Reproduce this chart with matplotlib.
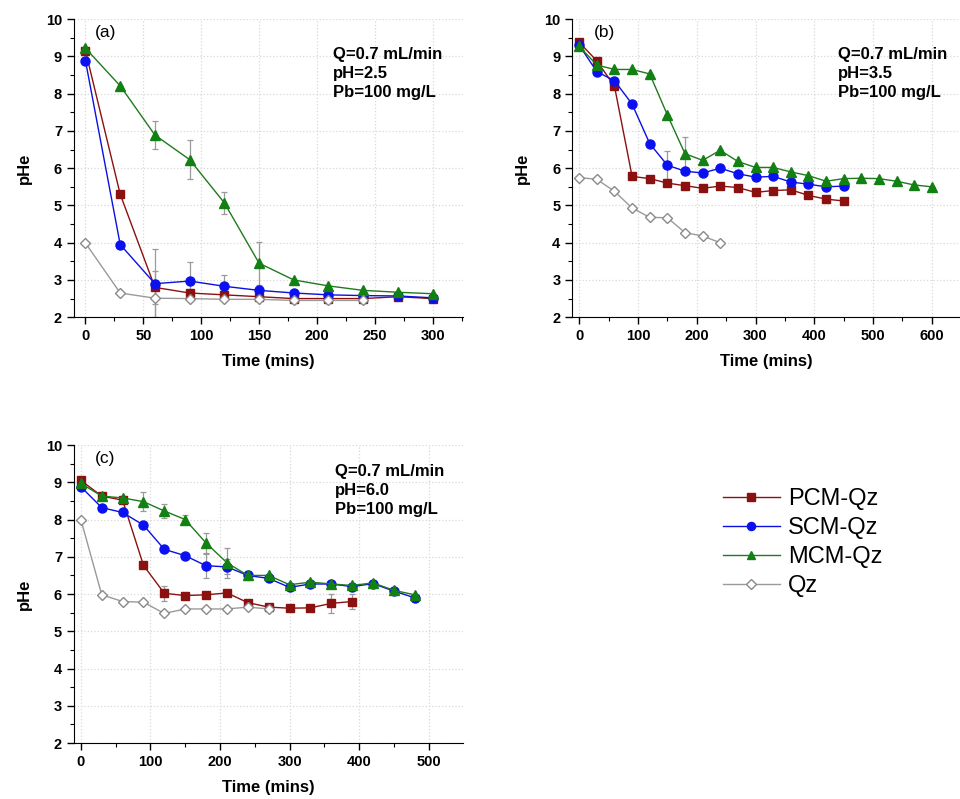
import matplotlib
matplotlib.use('Agg')
import matplotlib.pyplot as plt
from matplotlib.ticker import MultipleLocator
import numpy as np

plt.rcParams['font.family'] = ['Liberation Sans', 'DejaVu Sans']

# --- panel (a): pH 2.5 ---
t_a = [0, 30, 60, 90, 120, 150, 180, 210, 240, 270, 300]
pcm_a = [9.15, 5.30, 2.80, 2.65, 2.60, 2.55, 2.50, 2.50, 2.50, 2.55, 2.50]
scm_a = [8.88, 3.95, 2.90, 2.97, 2.83, 2.72, 2.65, 2.60, 2.58, 2.57, 2.52]
mcm_a = [9.22, 8.21, 6.89, 6.23, 5.07, 3.45, 3.00, 2.84, 2.72, 2.67, 2.63]
t_qz_a = [0, 30, 60, 90, 120, 150, 180, 210, 240]
qz_a = [3.99, 2.65, 2.51, 2.50, 2.48, 2.48, 2.45, 2.45, 2.45]
pcm_a_err = [0, 0, 0.45, 0, 0, 0, 0, 0, 0, 0, 0]
scm_a_err = [0, 0, 0.93, 0.52, 0.30, 0, 0, 0, 0, 0, 0]
mcm_a_err = [0, 0, 0.37, 0.53, 0.30, 0.58, 0, 0, 0, 0, 0]
qz_a_err = [0, 0, 0.50, 0, 0, 0, 0, 0, 0]

# --- panel (b): pH 3.5 ---
t_pcm_b = [0, 30, 60, 90, 120, 150, 180, 210, 240, 270, 300, 330, 360, 390, 420, 450]
pcm_b = [9.38, 8.88, 8.20, 5.78, 5.72, 5.60, 5.53, 5.46, 5.52, 5.48, 5.35, 5.40, 5.42, 5.27, 5.17, 5.12]
scm_b = [9.30, 8.59, 8.35, 7.72, 6.66, 6.08, 5.92, 5.87, 6.00, 5.85, 5.76, 5.78, 5.63, 5.57, 5.50, 5.52]
scm_b_err = [0, 0, 0, 0, 0, 0.37, 0, 0, 0, 0, 0, 0, 0, 0, 0, 0]
t_mcm_b = [0, 30, 60, 90, 120, 150, 180, 210, 240, 270, 300, 330, 360, 390, 420,
           450, 480, 510, 540, 570, 600]
mcm_b = [9.27, 8.77, 8.65, 8.65, 8.53, 7.43, 6.39, 6.21, 6.48, 6.18, 6.02, 6.02, 5.90, 5.80, 5.65,
         5.72, 5.73, 5.72, 5.65, 5.55, 5.50]
mcm_b_err = [0] * 6 + [0.44] + [0] * 14
t_qz_b = [0, 30, 60, 90, 120, 150, 180, 210, 240]
qz_b = [5.75, 5.70, 5.38, 4.93, 4.68, 4.67, 4.27, 4.18, 4.00]

# --- panel (c): pH 6.0 ---
t_pcm_c = [0, 30, 60, 90, 120, 150, 180, 210, 240, 270, 300, 330, 360, 390]
pcm_c = [9.05, 8.63, 8.52, 6.77, 6.02, 5.96, 5.98, 6.03, 5.77, 5.65, 5.62, 5.63, 5.75, 5.80]
pcm_c_err = [0, 0, 0, 0, 0.20, 0, 0, 0, 0, 0, 0, 0, 0.25, 0.20]
t_c = [0, 30, 60, 90, 120, 150, 180, 210, 240, 270, 300, 330, 360, 390, 420, 450, 480]
scm_c = [8.88, 8.32, 8.19, 7.85, 7.20, 7.03, 6.76, 6.73, 6.50, 6.42, 6.18, 6.27, 6.27, 6.20, 6.28, 6.08, 5.90]
scm_c_err = [0, 0, 0, 0, 0, 0, 0.32, 0.20, 0, 0, 0, 0, 0, 0, 0, 0, 0]
mcm_c = [8.97, 8.63, 8.58, 8.48, 8.23, 8.00, 7.37, 6.84, 6.50, 6.50, 6.25, 6.32, 6.27, 6.23, 6.30, 6.10, 5.98]
mcm_c_err = [0, 0, 0, 0.25, 0.20, 0.12, 0.27, 0.40, 0.12, 0, 0, 0, 0, 0, 0, 0, 0]
t_qz_c = [0, 30, 60, 90, 120, 150, 180, 210, 240, 270]
qz_c = [8.00, 5.98, 5.80, 5.78, 5.48, 5.60, 5.60, 5.60, 5.65, 5.60]

names = ['PCM-Qz', 'SCM-Qz', 'MCM-Qz', 'Qz']
styles = [
    dict(color='#8b1010', marker='s', ms=6, mfc='#8b1010', mec='#8b1010'),
    dict(color='#0a10e0', marker='o', ms=6.5, mfc='#0a10f0', mec='#0a10f0'),
    dict(color='#1e7a1e', marker='^', ms=7, mfc='#128012', mec='#128012'),
    dict(color='#9a9a9a', marker='D', ms=5.5, mfc='white', mec='#8a8a8a'),
]


def draw_series(ax, t, y, err, st, label):
    ax.errorbar(t, y, yerr=err, lw=1.0, ecolor='#9a9a9a', elinewidth=0.9,
                capsize=2.5, capthick=0.9, label=label, **st)


def style_axes(ax, xlim, xmajor, xminor, tag, note):
    ax.set_xlim(*xlim)
    ax.set_ylim(2, 10)
    ax.xaxis.set_major_locator(MultipleLocator(xmajor))
    ax.xaxis.set_minor_locator(MultipleLocator(xminor))
    ax.yaxis.set_major_locator(MultipleLocator(1))
    ax.yaxis.set_minor_locator(MultipleLocator(0.5))
    ax.spines['top'].set_visible(False)
    ax.spines['right'].set_visible(False)
    ax.tick_params(which='major', direction='out', length=5, width=1, labelsize=10.5)
    ax.tick_params(which='minor', direction='out', length=3, width=0.8)
    for lab in ax.get_xticklabels() + ax.get_yticklabels():
        lab.set_fontweight('bold')
    ax.grid(True, which='major', color='#d8d8d8', linestyle=':', linewidth=0.9)
    ax.set_axisbelow(True)
    ax.set_xlabel('Time (mins)', fontsize=12, fontweight='bold', labelpad=8)
    ax.set_ylabel('pHe', fontsize=12, fontweight='bold', labelpad=10)
    ax.text(0.055, 0.955, tag, transform=ax.transAxes, fontsize=12.5, va='center', ha='left')
    ax.text(note[0], note[1], note[2], transform=ax.transAxes, fontsize=12, fontweight='bold',
            va='top', ha='left', linespacing=1.3)


fig = plt.figure(figsize=(9.6, 7.99), dpi=100)
ax_a = fig.add_axes([0.077, 0.603, 0.405, 0.373])
ax_b = fig.add_axes([0.596, 0.603, 0.404, 0.373])
ax_c = fig.add_axes([0.077, 0.070, 0.405, 0.373])

# (a)
draw_series(ax_a, t_a, pcm_a, pcm_a_err, styles[0], names[0])
draw_series(ax_a, t_a, scm_a, scm_a_err, styles[1], names[1])
draw_series(ax_a, t_a, mcm_a, mcm_a_err, styles[2], names[2])
draw_series(ax_a, t_qz_a, qz_a, qz_a_err, styles[3], names[3])
style_axes(ax_a, (-10, 326), 50, 25, '(a)',
           (0.666, 0.905, 'Q=0.7 mL/min\npH=2.5\nPb=100 mg/L'))

# (b)
draw_series(ax_b, t_pcm_b, pcm_b, None, styles[0], names[0])
draw_series(ax_b, t_pcm_b, scm_b, scm_b_err, styles[1], names[1])
draw_series(ax_b, t_mcm_b, mcm_b, mcm_b_err, styles[2], names[2])
draw_series(ax_b, t_qz_b, qz_b, None, styles[3], names[3])
style_axes(ax_b, (-12, 648), 100, 50, '(b)',
           (0.686, 0.905, 'Q=0.7 mL/min\npH=3.5\nPb=100 mg/L'))

# (c)
draw_series(ax_c, t_pcm_c, pcm_c, pcm_c_err, styles[0], names[0])
draw_series(ax_c, t_c, scm_c, scm_c_err, styles[1], names[1])
draw_series(ax_c, t_c, mcm_c, mcm_c_err, styles[2], names[2])
draw_series(ax_c, t_qz_c, qz_c, None, styles[3], names[3])
style_axes(ax_c, (-10, 549), 100, 50, '(c)',
           (0.671, 0.935, 'Q=0.7 mL/min\npH=6.0\nPb=100 mg/L'))

handles, labels = ax_a.get_legend_handles_labels()
handles = [h[0] for h in handles]
fig.legend(handles, labels, loc='center left', bbox_to_anchor=(0.753, 0.321),
           frameon=False, fontsize=17, handlelength=2.4, handletextpad=0.35,
           labelspacing=0.3, borderpad=0, borderaxespad=0, markerscale=0.9)

fig.savefig('out.png', dpi=100)
